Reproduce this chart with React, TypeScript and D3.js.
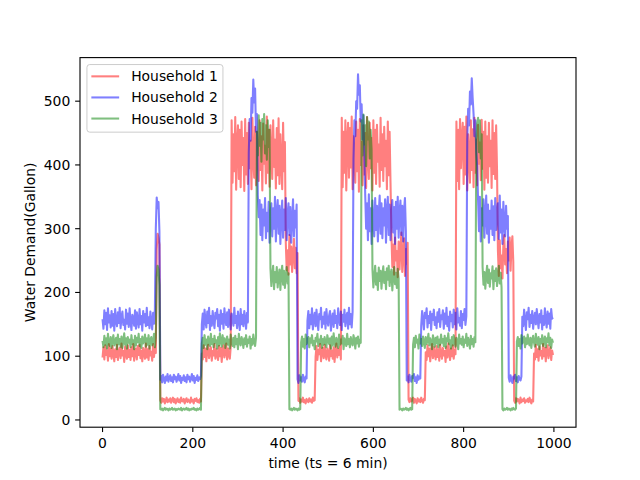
// Water demand of three households, drawn with D3 scales and line generators
import * as d3 from 'd3';

// one sample every 2 time steps (ts = 6 min)
const TIME_STEP = 2;

const household1 = [
  // normal 0-118
  98, 114, 95, 117, 102, 109, 93, 119, 100, 112,
  96, 116, 104, 92, 111, 99, 118, 94, 107, 113,
  97, 120, 101, 108, 91, 115, 103, 96, 117, 99,
  110, 94, 114, 100, 119, 93, 106, 112, 95, 116,
  102, 118, 97, 109, 92, 113, 104, 96, 120, 98,
  111, 94, 116, 101, 107, 93, 119, 99, 114, 105,
  // spike
  268, 292, 286, 275,
  // low 128-218
  31, 27, 34, 29, 33, 26, 30, 35, 28, 32,
  29, 34, 27, 31, 35, 28, 33, 26, 30, 34,
  28, 32, 27, 35, 30, 29, 33, 26, 31, 34,
  28, 32, 30, 27, 35, 29, 31, 26, 33, 30,
  34, 28, 31, 27, 33, 29,
  // normal 220-284
  104, 95, 117, 99, 112, 92, 110, 118, 97, 106,
  114, 93, 108, 101, 119, 96, 111, 103, 94, 116,
  100, 113, 91, 109, 117, 98, 105, 120, 95, 112,
  102, 96, 115,
  // high 286-404
  470, 372, 448, 390, 475, 361, 435, 462, 378, 455,
  365, 468, 400, 442, 359, 472, 385, 450, 370, 466,
  395, 438, 362, 474, 410, 380, 460, 368, 452, 420,
  375, 470, 392, 445, 360, 465, 402, 430, 371, 476,
  388, 455, 366, 462, 415, 378, 470, 397, 440, 363,
  458, 384, 473, 370, 448, 405, 362, 466, 390, 436,
  // mid 406-432
  278, 235, 266, 228, 290, 244, 272, 232, 260, 284, 238, 270, 230, 262,
  // low 434-470
  30, 34, 27, 32, 29, 35, 28, 31, 26, 33, 30, 28, 34, 29, 32, 27, 35, 30, 31,
  // normal 472-528
  99, 116, 94, 110, 103, 119, 92, 107, 113, 97,
  118, 101, 95, 112, 106, 93, 117, 100, 109, 96,
  114, 91, 108, 120, 98, 111, 102, 115, 95,
  // high 530-638
  474, 365, 452, 388, 470, 360, 440, 466, 380, 458,
  396, 476, 362, 445, 415, 372, 468, 390, 455, 358,
  472, 400, 436, 368, 462, 385, 450, 364, 475, 410,
  378, 466, 395, 442, 360, 470, 388, 455, 370, 463,
  405, 432, 366, 474, 392, 448, 375, 460, 398, 438,
  362, 468, 384, 452, 372,
  // mid 640-676
  292, 240, 275, 228, 286, 250, 265, 224, 280, 236, 270, 294, 232, 258, 285, 226, 268, 245, 278,
  // low 678-714
  32, 28, 34, 29, 31, 35, 27, 33, 30, 26, 34, 29, 32, 28, 35, 30, 27, 33, 31,
  // normal 716-782
  106, 94, 117, 100, 112, 92, 109, 119, 97, 114,
  103, 95, 116, 99, 111, 93, 118, 104, 96, 113,
  101, 108, 91, 115, 98, 120, 105, 94, 112, 100,
  117, 96, 110, 103,
  // high 784-874
  468, 375, 455, 362, 472, 395, 442, 466, 370, 460,
  385, 476, 360, 448, 418, 372, 470, 392, 456, 365,
  474, 388, 440, 368, 463, 402, 435, 376, 471, 394,
  452, 361, 468, 380, 445, 372, 466, 398, 438, 364,
  470, 386, 450, 378, 462, 392,
  // mid 876-910
  265, 226, 282, 238, 258, 222, 274, 290, 244, 268, 230, 280, 250, 286, 234, 272, 288, 248,
  // low 912-954
  30, 27, 34, 29, 33, 31, 26, 35, 28, 32, 30, 34, 27, 31, 29, 33, 28, 35, 30, 26, 32, 29,
  // normal 956-998
  104, 95, 118, 99, 111, 93, 115, 101, 108, 96, 119, 100, 113, 92, 110, 117, 97, 106, 114, 94, 109, 102,
];

const household2 = [
  // normal 0-116
  158, 143, 172, 150, 168, 141, 175, 153, 164, 145,
  171, 148, 166, 140, 174, 155, 147, 169, 152, 176,
  144, 162, 170, 149, 157, 142, 173, 151, 167, 146,
  175, 154, 141, 165, 160, 148, 172, 143, 169, 156,
  145, 174, 150, 163, 140, 171, 153, 166, 147, 176,
  149, 161, 144, 170, 155, 142, 168, 151, 173,
  // spike
  300, 349, 332, 342, 296,
  // low 128-218
  63, 69, 59, 71, 64, 58, 68, 62, 72, 60,
  66, 70, 61, 67, 59, 71, 64, 68, 60, 65,
  72, 62, 69, 58, 66, 63, 70, 61, 67, 59,
  71, 64, 68, 60, 65, 72, 62, 69, 58, 66,
  63, 70, 61, 67, 64, 69,
  // normal 220-322
  150, 167, 142, 173, 156, 145, 170, 152, 176, 141,
  163, 148, 171, 155, 144, 168, 159, 174, 147, 165,
  140, 172, 151, 166, 143, 175, 157, 149, 169, 146,
  173, 154, 142, 167, 160, 148, 176, 152, 163, 144,
  170, 156, 141, 174, 150, 165, 147, 171, 158, 143,
  168, 153,
  // high 324-342
  420, 472, 438, 505, 482, 534, 498, 520, 452, 480,
  // mid 344-430
  352, 318, 345, 290, 338, 282, 330, 305, 348, 285,
  325, 296, 342, 278, 318, 340, 288, 332, 300, 350,
  280, 326, 345, 292, 336, 276, 320, 344, 286, 330,
  298, 348, 282, 322, 340, 290, 334, 278, 315, 346,
  288, 328, 302, 338,
  // low 432-452
  64, 58, 70, 62, 67, 60, 71, 63, 59, 68, 65,
  // normal 454-554
  156, 171, 144, 165, 150, 175, 142, 160, 168, 147,
  173, 153, 141, 166, 158, 176, 145, 162, 151, 169,
  143, 174, 155, 148, 164, 171, 140, 159, 167, 146,
  172, 152, 163, 144, 175, 157, 149, 170, 141, 165,
  154, 173, 147, 161, 168, 143, 176, 150, 166, 145,
  170,
  // high 556-580
  410, 470, 445, 500, 488, 542, 510, 525, 468, 495, 440, 478, 415,
  // mid 582-672
  352, 300, 340, 282, 354, 296, 332, 276, 344, 310,
  288, 348, 298, 336, 280, 325, 352, 292, 340, 285,
  332, 305, 346, 278, 328, 350, 290, 338, 282, 320,
  345, 294, 334, 276, 342, 300, 350, 286, 326, 344,
  290, 336, 280, 330, 348, 296,
  // low 674-704
  62, 68, 59, 71, 64, 60, 69, 66, 72, 61, 67, 58, 70, 63, 68, 65,
  // normal 706-806
  148, 171, 156, 142, 168, 160, 175, 145, 163, 152,
  170, 141, 166, 157, 173, 149, 161, 144, 169, 154,
  174, 146, 164, 158, 172, 143, 167, 151, 176, 147,
  162, 140, 170, 155, 165, 145, 173, 150, 168, 142,
  175, 153, 160, 148, 171, 144, 166, 157, 174, 149,
  163,
  // high 808-830
  440, 488, 462, 515, 495, 536, 505, 480, 445, 470, 420, 398,
  // mid 832-898
  345, 296, 350, 280, 332, 305, 346, 286, 322, 352,
  292, 338, 278, 328, 300, 344, 290, 335, 282, 348,
  298, 326, 340, 284, 352, 294, 330, 276, 342, 308,
  288, 336, 300, 320,
  // low 900-928
  66, 60, 70, 63, 58, 68, 65, 71, 61, 67, 59, 69, 64, 62, 68,
  // normal 930-998
  162, 147, 173, 155, 141, 169, 158, 176, 146, 165,
  152, 171, 143, 160, 168, 150, 174, 157, 144, 166,
  153, 172, 142, 163, 149, 175, 156, 145, 170, 151,
  167, 143, 174, 159, 161,
];

const household3 = [
  // normal 0-118
  124, 114, 132, 118, 128, 112, 135, 120, 116, 130,
  113, 126, 133, 117, 123, 129, 111, 134, 119, 127,
  115, 131, 113, 124, 136, 118, 128, 112, 130, 121,
  126, 114, 133, 119, 125, 111, 132, 117, 129, 122,
  135, 116, 127, 113, 131, 120, 124, 134, 115, 128,
  118, 133, 112, 126, 130, 117, 123, 135, 114, 129,
  // spike
  225, 242, 236, 212,
  // low 128-218
  17, 16, 18, 15, 17, 19, 16, 18, 17, 15,
  18, 16, 17, 19, 16, 17, 18, 15, 17, 16,
  18, 17, 16, 19, 15, 17, 18, 16, 17, 19,
  16, 18, 15, 17, 16, 18, 17, 19, 16, 17,
  15, 18, 16, 17, 19, 16,
  // normal 220-340
  120, 129, 113, 133, 118, 126, 111, 131, 122, 116,
  135, 119, 127, 114, 132, 121, 125, 112, 130, 117,
  136, 123, 115, 133, 120, 128, 113, 124, 131, 118,
  126, 112, 134, 121, 116, 129, 114, 132, 119, 127,
  111, 135, 122, 117, 130, 124, 113, 128, 119, 133,
  115, 126, 121, 131, 112, 127, 118, 134, 123, 116,
  129,
  // high 342-370
  452, 415, 478, 430, 466, 405, 472, 440, 480, 418, 462, 408, 470, 428, 455,
  // mid 372-412
  238, 210, 228, 242, 205, 232, 216, 240, 208, 226, 236, 204, 230, 242, 212, 234, 207, 225, 240, 214, 230,
  // low 414-438
  17, 16, 18, 15, 17, 19, 16, 18, 17, 15, 18, 16, 17,
  // normal 440-572
  122, 131, 115, 127, 112, 134, 119, 125, 130, 114,
  128, 121, 133, 117, 124, 111, 129, 123, 135, 116,
  126, 120, 132, 113, 127, 118, 130, 122, 114, 133,
  125, 119, 128, 112, 131, 117, 136, 121, 115, 129,
  124, 113, 134, 118, 126, 120, 132, 111, 128, 123,
  116, 135, 119, 127, 114, 130, 122, 117, 133, 125,
  112, 129, 120, 131, 115, 126, 121,
  // high 574-596
  470, 415, 479, 432, 462, 398, 475, 440, 468, 410, 455, 425,
  // mid 598-656
  236, 208, 225, 242, 212, 230, 204, 239, 218, 234,
  206, 228, 241, 215, 232, 205, 238, 220, 242, 210,
  228, 236, 203, 226, 240, 213, 231, 207, 237, 222,
  // low 658-686
  16, 18, 17, 15, 18, 16, 17, 19, 16, 18, 15, 17, 19, 16, 17,
  // normal 688-826
  118, 129, 114, 132, 121, 126, 112, 134, 120, 127,
  116, 131, 123, 113, 130, 119, 125, 135, 117, 128,
  122, 111, 133, 124, 115, 129, 120, 131, 114, 126,
  118, 134, 121, 127, 116, 132, 113, 128, 123, 136,
  119, 125, 112, 130, 117, 133, 122, 115, 129, 124,
  111, 134, 120, 127, 118, 131, 114, 126, 121, 135,
  116, 129, 123, 112, 132, 119, 127, 115, 130, 122,
  // high 828-840
  440, 465, 474, 420, 470, 410, 448,
  // mid 842-884
  240, 212, 232, 206, 226, 242, 215, 236, 209, 230, 222, 241, 205, 234, 218, 238, 210, 228, 242, 214, 231, 208,
  // low 886-916
  17, 15, 18, 16, 17, 19, 16, 18, 17, 15, 18, 16, 19, 17, 16, 18,
  // normal 918-998
  123, 130, 116, 127, 112, 133, 120, 125, 131, 114,
  128, 119, 134, 122, 117, 129, 113, 126, 132, 121,
  115, 135, 124, 118, 130, 111, 127, 120, 133, 116,
  125, 131, 114, 128, 122, 136, 117, 129, 113, 126,
  121,
];

const seriesNames = ['Household 1', 'Household 2', 'Household 3'];
const seriesColors = ['red', 'blue', 'green'];
const seriesValues = [household1, household2, household3];

const xTicks = [0, 200, 400, 600, 800, 1000];
const yTicks = [0, 100, 200, 300, 400, 500];
const X_LAST = 999;

const W = 640;
const H = 480;
const margin = { top: 57.6, right: 64, bottom: 52.8, left: 80 };
const FONT = 'DejaVu Sans, sans-serif';
const FS = 13.9;

export default function App() {
  const left = margin.left;
  const right = W - margin.right;
  const top = margin.top;
  const bottom = H - margin.bottom;

  const xPad = X_LAST * 0.05;
  const x = d3.scaleLinear().domain([-xPad, X_LAST + xPad]).range([left, right]);

  const all = seriesValues.flat();
  const [yMin, yMax] = d3.extent(all) as [number, number];
  const yPad = (yMax - yMin) * 0.05;
  const y = d3.scaleLinear().domain([yMin - yPad, yMax + yPad]).range([bottom, top]);

  const line = d3
    .line<number>()
    .x((_, i) => x(i * TIME_STEP))
    .y((d) => y(d));

  const tickLen = 4.86;
  const legendX = left + 6.95;
  const legendY = top + 6.95;
  const rowPitch = 21.1;

  return (
    <svg
      width={W}
      height={H}
      style={{ position: 'absolute', left: 0, top: 0, background: '#fff' }}
      fontFamily={FONT}
    >
      <rect x={0} y={0} width={W} height={H} fill="#fff" />

      {seriesValues.map((vals, k) => (
        <path
          key={seriesNames[k]}
          d={line(vals) || ''}
          fill="none"
          stroke={seriesColors[k]}
          strokeOpacity={0.5}
          strokeWidth={2.08}
          strokeLinejoin="round"
        />
      ))}

      {/* frame */}
      <rect
        x={left}
        y={top}
        width={right - left}
        height={bottom - top}
        fill="none"
        stroke="#000"
        strokeWidth={1.1}
      />

      {/* x axis */}
      {xTicks.map((t) => (
        <g key={'x' + t}>
          <line x1={x(t)} x2={x(t)} y1={bottom} y2={bottom + tickLen} stroke="#000" strokeWidth={1.1} />
          <text x={x(t)} y={bottom + 20.6} textAnchor="middle" fontSize={FS} fill="#000">
            {t}
          </text>
        </g>
      ))}
      <text x={(left + right) / 2} y={467.5} textAnchor="middle" fontSize={FS} fill="#000">
        time (ts = 6 min)
      </text>

      {/* y axis */}
      {yTicks.map((t) => (
        <g key={'y' + t}>
          <line x1={left - tickLen} x2={left} y1={y(t)} y2={y(t)} stroke="#000" strokeWidth={1.1} />
          <text x={left - tickLen - 4.86} y={y(t) + 5} textAnchor="end" fontSize={FS} fill="#000">
            {t}
          </text>
        </g>
      ))}
      <text
        transform={`translate(35,${(top + bottom) / 2}) rotate(-90)`}
        textAnchor="middle"
        fontSize={FS}
        fill="#000"
      >
        Water Demand(Gallon)
      </text>

      {/* legend */}
      <rect
        x={legendX}
        y={legendY}
        width={136}
        height={67.6}
        rx={2.8}
        fill="#fff"
        fillOpacity={0.8}
        stroke="#cccccc"
        strokeWidth={1}
      />
      {seriesNames.map((name, k) => {
        const cy = legendY + 11.8 + k * rowPitch;
        return (
          <g key={'lg' + name}>
            <line
              x1={legendX + 4.4}
              x2={legendX + 32.2}
              y1={cy}
              y2={cy}
              stroke={seriesColors[k]}
              strokeOpacity={0.5}
              strokeWidth={2.08}
            />
            <text x={legendX + 44.2} y={cy + 5} fontSize={FS} fill="#000">
              {name}
            </text>
          </g>
        );
      })}
    </svg>
  );
}
